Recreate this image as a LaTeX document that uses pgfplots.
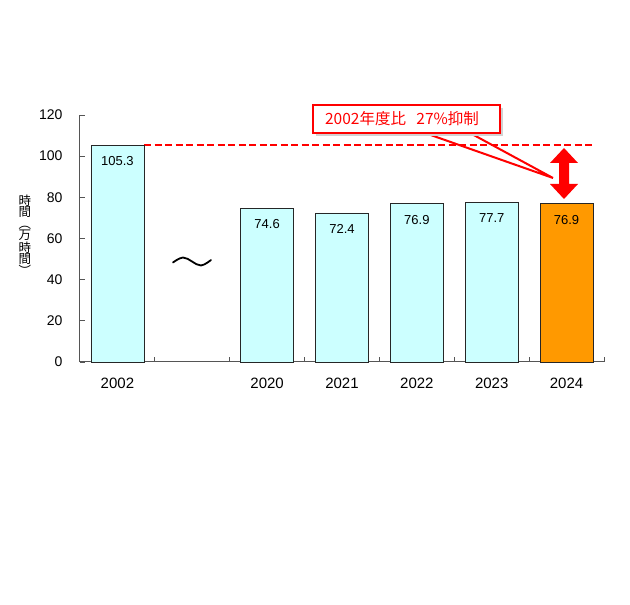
\documentclass[border=0pt]{standalone}
\usepackage{fontspec}
\setmainfont{Liberation Sans}
\newfontfamily\cjk{Noto Sans CJK JP}
\usepackage{pgfplots}
\pgfplotsset{compat=1.18}
\definecolor{barcyan}{HTML}{CCFFFF}
\definecolor{barorange}{HTML}{FF9900}
\definecolor{axgray}{HTML}{555555}
\begin{document}
\begin{tikzpicture}[x=1pt,y=1pt]
\path (0pt,0pt) rectangle (630pt,605pt);
\begin{axis}[at={(80pt,243pt)}, anchor=south west, scale only axis,
  width=524pt, height=247pt,
  xmin=-0.5, xmax=6.5, ymin=0, ymax=120,
  axis lines=left, axis line style={-, draw=axgray, line width=1pt},
  ytick={0,20,...,120},
  xtick={0.5,1.5,2.5,3.5,4.5,5.5,6.5}, xticklabels={},
  extra x ticks={0,2,3,4,5,6},
  extra x tick labels={2002,2020,2021,2022,2023,2024},
  extra x tick style={major tick length=0pt},
  tick align=inside, major tick length=5pt,
  tick style={draw=axgray, line width=0.8pt},
  yticklabel style={font=\fontsize{14}{14}\selectfont, xshift=-14pt},
  xticklabel style={font=\fontsize{15}{15}\selectfont, yshift=-12pt},
  /pgf/number format/assume math mode=true,
  clip=false,
]
\addplot[red, line width=1.8pt, dash pattern=on 7pt off 3.5pt]
  coordinates {(0.355,105.3) (6.38,105.3)};
\addplot[ybar, bar width=53pt, bar shift=0pt, fill=barcyan, draw=black!85, line width=0.8pt,
  nodes near coords, nodes near coords style={font=\fontsize{13}{13}\selectfont, anchor=center, yshift=-16pt, text=black},
  point meta=explicit symbolic]
  coordinates {(0,105.3) [105.3] (2,74.6) [74.6] (3,72.4) [72.4] (4,76.9) [76.9] (5,77.7) [77.7]};
\addplot[ybar, bar width=53pt, bar shift=0pt, fill=barorange, draw=black!85, line width=0.8pt,
  nodes near coords, nodes near coords style={font=\fontsize{13}{13}\selectfont, anchor=center, yshift=-16pt, text=black},
  point meta=explicit symbolic]
  coordinates {(6,76.9) [76.9]};
\end{axis}
% tilde (axis break)
\draw[line width=1.8pt, line cap=round] plot[smooth, tension=0.7]
  coordinates {(173pt,342.5pt) (183pt,347.5pt) (192pt,343.5pt) (201pt,339.5pt) (211pt,345pt)};
% double arrow
\fill[red] (564pt,457pt) -- (578pt,442pt) -- (569pt,442pt) -- (569pt,421pt) -- (578pt,421pt) -- (564pt,406pt)
  -- (550pt,421pt) -- (559pt,421pt) -- (559pt,442pt) -- (550pt,442pt) -- cycle;
% callout
\draw[red, line width=2pt, line join=miter] (425pt,472pt) -- (553pt,427pt) -- (470pt,472pt);
\fill[gray!35] (316pt,469pt) rectangle (503pt,497pt);
\draw[red, line width=2pt, fill=white] (313pt,472pt) rectangle (500pt,500pt);
\node[text=red, font=\cjk\fontsize{15.5}{15.5}\selectfont] at (402pt,486pt) {2002年度比\ \ \ 27\%抑制};
% y label
\node[align=center, font=\cjk\fontsize{12.5}{11.5}\selectfont, inner sep=0pt] at (25pt,370pt)
  {時\\間\\︵\\万\\時\\間\\︶};
\end{tikzpicture}
\end{document}
